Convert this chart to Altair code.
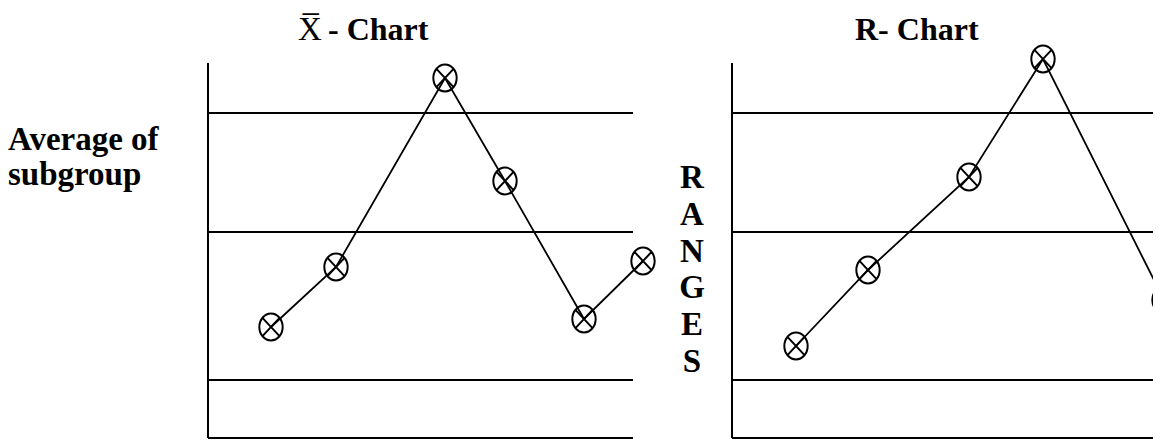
import altair as alt
import pandas as pd

# ---------------- data ----------------
# X-bar chart: subgroup position along the time axis and subgroup average
xbar_pos = [2.52, 5.12, 9.48, 11.88, 15.04, 17.4]
xbar_val = [4.44, 6.84, 14.4, 10.28, 4.76, 7.08]

# R chart: subgroup position and subgroup range
r_pos = [2.56, 5.44, 9.48, 12.44, 17.28]
r_val = [3.68, 6.72, 10.44, 15.16, 5.52]

# control limits (UCL, CL, LCL), same drawing for both charts
limits = [13.0, 8.24, 2.32]

# extent of each chart's axes
x_extent = [0, 17]
y_extent = [0, 15]

# texts
title_x_symbol = "X\u0305"
title_x_rest = "- Chart"
title_r = "R- Chart"
ylabel_left = ["Average of", "subgroup"]
ylabel_right = ["R", "A", "N", "G", "E", "S"]

FONT = "Liberation Serif"
# circle with a cross inside (slightly taller than wide)
MARKER = ("M-0.87,0A0.87,1,0,1,1,0.87,0A0.87,1,0,1,1,-0.87,0Z"
          "M-0.62,-0.66L0.62,0.66M-0.62,0.66L0.62,-0.66")


def panel(pos, val, x_range):
    xs = alt.Scale(domain=x_extent, range=x_range, zero=False, nice=False)
    ys = alt.Scale(domain=y_extent, range=[430, 55], zero=False, nice=False)

    lim_df = pd.DataFrame({"y": limits, "x0": x_extent[0], "x1": x_extent[1]})
    rules = alt.Chart(lim_df).mark_rule(color="black", strokeWidth=2).encode(
        x=alt.X("x0:Q", scale=xs, axis=None),
        x2="x1:Q",
        y=alt.Y("y:Q", scale=ys, axis=None),
    )

    vax_df = pd.DataFrame({"x": [x_extent[0]], "y0": [y_extent[0]], "y1": [y_extent[1]]})
    vaxis = alt.Chart(vax_df).mark_rule(color="black", strokeWidth=2).encode(
        x=alt.X("x:Q", scale=xs, axis=None),
        y=alt.Y("y0:Q", scale=ys, axis=None),
        y2="y1:Q",
    )

    hax_df = pd.DataFrame({"y": [y_extent[0]], "x0": [x_extent[0]], "x1": [x_extent[1]]})
    haxis = alt.Chart(hax_df).mark_rule(color="black", strokeWidth=2).encode(
        x=alt.X("x0:Q", scale=xs, axis=None),
        x2="x1:Q",
        y=alt.Y("y:Q", scale=ys, axis=None),
    )

    pts_df = pd.DataFrame({"i": list(range(len(pos))), "x": pos, "y": val})
    line = alt.Chart(pts_df).mark_line(color="black", strokeWidth=1.8).encode(
        x=alt.X("x:Q", scale=xs, axis=None),
        y=alt.Y("y:Q", scale=ys, axis=None),
        order="i:O",
    )
    pts = alt.Chart(pts_df).mark_point(
        shape=MARKER, filled=False, size=720, color="black", strokeWidth=2, opacity=1
    ).encode(
        x=alt.X("x:Q", scale=xs, axis=None),
        y=alt.Y("y:Q", scale=ys, axis=None),
    )
    return alt.layer(rules, vaxis, haxis, line, pts)


left = panel(xbar_pos, xbar_val, [200, 625])
right = panel(r_pos, r_val, [724, 1149])

dummy = pd.DataFrame({"a": [0]})


def label(text, x, y, size, bold=True, align="left", line_height=None):
    kw = dict(text=text, font=FONT, fontSize=size, fontWeight="bold" if bold else "normal",
              color="black", align=align, baseline="alphabetic")
    if line_height is not None:
        kw["lineHeight"] = line_height
    return alt.Chart(dummy).mark_text(**kw).encode(x=alt.value(x), y=alt.value(y))


texts = [
    label(title_x_symbol, 290, 32, 33, bold=False),
    label(title_x_rest, 320, 32, 32),
    label(title_r, 847, 32, 32),
    label(ylabel_left, 0, 142, 33, line_height=35),
    label(ylabel_right, 684, 180, 33, align="center", line_height=36.8),
]

chart = alt.layer(left, right, *texts).resolve_scale(x="independent").properties(
    width=1145,
    height=432,
    autosize=alt.AutoSizeParams(type="none"),
    padding=0,
).configure_view(stroke=None)

chart.save("out.html", embed_options={"renderer": "svg", "actions": False})
